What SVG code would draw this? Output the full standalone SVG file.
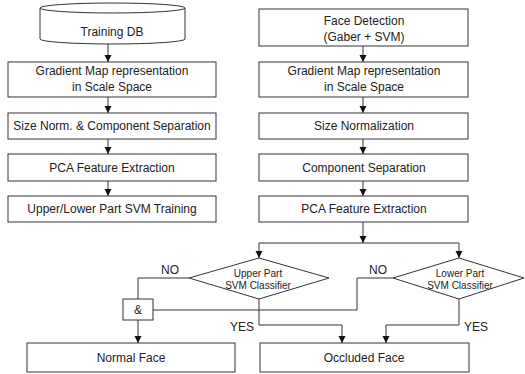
<svg xmlns="http://www.w3.org/2000/svg" width="525" height="374" viewBox="0 0 525 374">
<style>
.box{fill:#fff;stroke:#333;stroke-width:1}
.t{font-family:"Liberation Sans",Arial,sans-serif;font-size:12px;fill:#222;text-anchor:middle}
.s{font-family:"Liberation Sans",Arial,sans-serif;font-size:10px;fill:#222;text-anchor:middle}
.c{fill:none;stroke:#333;stroke-width:1}
</style>
<defs>
<marker id="ah" markerUnits="userSpaceOnUse" markerWidth="8" markerHeight="8" refX="7" refY="3.5" orient="auto">
<path d="M0,0 L7,3.5 L0,7 Z" fill="#111"/>
</marker>
</defs>
<rect width="525" height="374" fill="#fff"/>
<g id="connectors">
<path class="c" d="M108,44 V62" marker-end="url(#ah)"/>
<path class="c" d="M108,97 V113" marker-end="url(#ah)"/>
<path class="c" d="M108,139 V154" marker-end="url(#ah)"/>
<path class="c" d="M108,181 V196" marker-end="url(#ah)"/>
<path class="c" d="M363,46 V62" marker-end="url(#ah)"/>
<path class="c" d="M363,97 V113" marker-end="url(#ah)"/>
<path class="c" d="M363,139 V154" marker-end="url(#ah)"/>
<path class="c" d="M363,181 V196" marker-end="url(#ah)"/>
<path class="c" d="M363,222 V243" marker-end="url(#ah)"/>
<path class="c" d="M259,243 H459"/>
<path class="c" d="M259,243 V258" marker-end="url(#ah)"/>
<path class="c" d="M459,243 V258" marker-end="url(#ah)"/>
<path class="c" d="M189,278 H138 V299"/>
<path class="c" d="M138,320 V343" marker-end="url(#ah)"/>
<path class="c" d="M153,310 H357 V278 H393"/>
<path class="c" d="M259,299 V325 H342 V343" marker-end="url(#ah)"/>
<path class="c" d="M459,299 V325 H386 V343" marker-end="url(#ah)"/>
<text class="t" x="170" y="274">NO</text>
<text class="t" x="378" y="274">NO</text>
<text class="t" x="242" y="331">YES</text>
<text class="t" x="476" y="331">YES</text>
</g>
<g id="training-db">
<path class="box" d="M40,8 A72.5,5 0 0 1 185,8 V39 A72.5,5 0 0 1 40,39 Z"/>
<path class="c" d="M40,8 A72.5,5 0 0 0 185,8"/>
<text class="t" x="112" y="36">Training DB</text>
</g>
<g id="gradient-left">
<rect class="box" x="8" y="62" width="208" height="35"/>
<text class="t" x="112" y="75">Gradient Map representation</text>
<text class="t" x="112" y="91">in Scale Space</text>
</g>
<g id="sizenorm-left">
<rect class="box" x="8" y="113" width="208" height="26"/>
<text class="t" x="112" y="130">Size Norm. &amp; Component Separation</text>
</g>
<g id="pca-left">
<rect class="box" x="8" y="154" width="208" height="27"/>
<text class="t" x="112" y="172">PCA Feature Extraction</text>
</g>
<g id="svm-training">
<rect class="box" x="8" y="196" width="208" height="26"/>
<text class="t" x="112" y="213">Upper/Lower Part SVM Training</text>
</g>
<g id="face-detection">
<rect class="box" x="259" y="9" width="209" height="37"/>
<text class="t" x="364" y="25">Face Detection</text>
<text class="t" x="364" y="41">(Gaber + SVM)</text>
</g>
<g id="gradient-right">
<rect class="box" x="259" y="62" width="209" height="35"/>
<text class="t" x="364" y="75">Gradient Map representation</text>
<text class="t" x="364" y="91">in Scale Space</text>
</g>
<g id="sizenorm-right">
<rect class="box" x="259" y="113" width="209" height="26"/>
<text class="t" x="364" y="130">Size Normalization</text>
</g>
<g id="component-sep">
<rect class="box" x="259" y="154" width="209" height="27"/>
<text class="t" x="364" y="172">Component Separation</text>
</g>
<g id="pca-right">
<rect class="box" x="259" y="196" width="209" height="26"/>
<text class="t" x="364" y="213">PCA Feature Extraction</text>
</g>
<g id="upper-classifier">
<polygon class="box" points="259,258 329,278 259,299 189,278"/>
<text class="s" x="258" y="277">Upper Part</text>
<text class="s" x="258" y="289">SVM Classifier</text>
</g>
<g id="lower-classifier">
<polygon class="box" points="459,258 524,278 459,299 393,278"/>
<text class="s" x="460" y="277">Lower Part</text>
<text class="s" x="460" y="289">SVM Classifier</text>
</g>
<g id="and-gate">
<rect class="box" x="123" y="299" width="30" height="21"/>
<text class="t" x="138" y="314">&amp;</text>
</g>
<g id="normal-face">
<rect class="box" x="27" y="343" width="208" height="29"/>
<text class="t" x="131" y="362">Normal Face</text>
</g>
<g id="occluded-face">
<rect class="box" x="260" y="343" width="209" height="29"/>
<text class="t" x="364" y="362">Occluded Face</text>
</g>
</svg>
